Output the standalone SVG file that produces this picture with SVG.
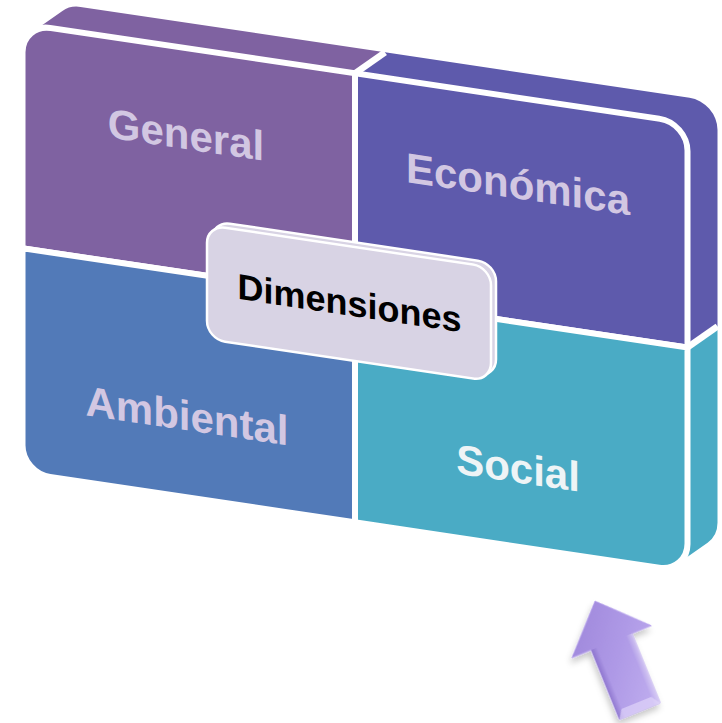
<svg xmlns="http://www.w3.org/2000/svg" width="722" height="723" viewBox="0 0 722 723">
<defs>
<style>
.q{stroke:#ffffff;stroke-width:6;stroke-linejoin:round}
.side{stroke:none}
.div{stroke:#ffffff;stroke-width:6;stroke-linecap:butt}
.gen{fill:#7F62A1}
.eco{fill:#5E5AAC}
.amb{fill:#527AB8}
.soc{fill:#4AABC5}
.lbl{font-family:"Liberation Sans",Arial,sans-serif;font-weight:bold;font-size:42px;text-anchor:middle}
.lav{fill:#D2C7E2}
.wht{fill:#EEF4F6}
.box{fill:#D8D3E4;stroke:#ffffff;stroke-width:2.5}
.boxtxt{font-family:"Liberation Sans",Arial,sans-serif;font-weight:bold;font-size:36px;text-anchor:middle;fill:#000000}
</style>
<linearGradient id="arrowGrad" x1="0" y1="0" x2="1" y2="1">
<stop offset="0" stop-color="#9A82D8"/>
<stop offset="0.5" stop-color="#AE99E6"/>
<stop offset="1" stop-color="#C6B5F2"/>
</linearGradient>
<linearGradient id="bevel" x1="0" y1="0" x2="1" y2="0">
<stop offset="0" stop-color="#7C62C2" stop-opacity="0.6"/>
<stop offset="0.15" stop-color="#7C62C2" stop-opacity="0"/>
<stop offset="0.85" stop-color="#ffffff" stop-opacity="0"/>
<stop offset="1" stop-color="#ffffff" stop-opacity="0.35"/>
</linearGradient>
<filter id="shadow" x="-30%" y="-30%" width="160%" height="160%">
<feDropShadow dx="-3" dy="4" stdDeviation="3" flood-color="#000000" flood-opacity="0.22"/>
</filter>
</defs>
<g transform="matrix(1,0.149,0,1,22.5,23.8)">
<g id="slab-sides">
<path class="side gen" d="M0,224.5 L0,28 A28,28 0 0 1 9.9,6.7 L39.9,-18.8 A28,28 0 0 1 58,-25.5 L362.5,-25.5 L332.5,0 L332.5,224.5 Z"/>
<path class="side eco" d="M332.5,224.5 L332.5,0 L362.5,-25.5 L667,-25.5 A28,28 0 0 1 695,2.5 L695,199 L665,224.5 Z"/>
<path class="side soc" d="M332.5,224.5 L665,224.5 L695,199 L695,395.5 A28,28 0 0 1 685.1,416.8 L655.1,442.3 A28,28 0 0 1 637,449 L332.5,449 Z"/>
<line class="div" x1="332.5" y1="0" x2="362.5" y2="-25.5"/>
<line class="div" x1="665" y1="224.5" x2="695" y2="199"/>
</g>
<g id="general">
<path class="q gen" d="M0,224.5 L0,28 A28,28 0 0 1 28,0 L332.5,0 L332.5,224.5 Z"/>
<text class="lbl lav" x="163.5" y="101">General</text>
</g>
<g id="economica">
<path class="q eco" d="M332.5,0 L637,0 A28,28 0 0 1 665,28 L665,224.5 L332.5,224.5 Z"/>
<text class="lbl lav" x="495.5" y="101">Económica</text>
</g>
<g id="ambiental">
<path class="q amb" d="M0,224.5 L332.5,224.5 L332.5,449 L28,449 A28,28 0 0 1 0,421 Z"/>
<text class="lbl lav" x="164.5" y="382">Ambiental</text>
</g>
<g id="social">
<path class="q soc" d="M332.5,224.5 L665,224.5 L665,421 A28,28 0 0 1 637,449 L332.5,449 Z"/>
<text class="lbl wht" x="495.5" y="385">Social</text>
</g>
<g id="dimensiones">
<rect class="box" x="189.5" y="169" width="284" height="114" rx="18" ry="18"/>
<rect class="box" x="184.5" y="173.7" width="284" height="114" rx="18" ry="18"/>
<text class="boxtxt" x="327" y="243">Dimensiones</text>
</g>
</g>
<g id="arrow" transform="translate(595,601) rotate(-22.1)" filter="url(#shadow)">
<path d="M0,0 L43,44 L22,44 L22,119 L-22,119 L-22,44 L-43,44 Z" fill="url(#arrowGrad)" stroke="#BCA9EE" stroke-width="1"/>
<path d="M-22,44 L22,44 L22,119 L-22,119 Z" fill="url(#bevel)"/>
<path d="M-22,119 L22,119 L16,110 L-16,110 Z" fill="#E6DCFB" opacity="0.6"/>
</g>
</svg>
